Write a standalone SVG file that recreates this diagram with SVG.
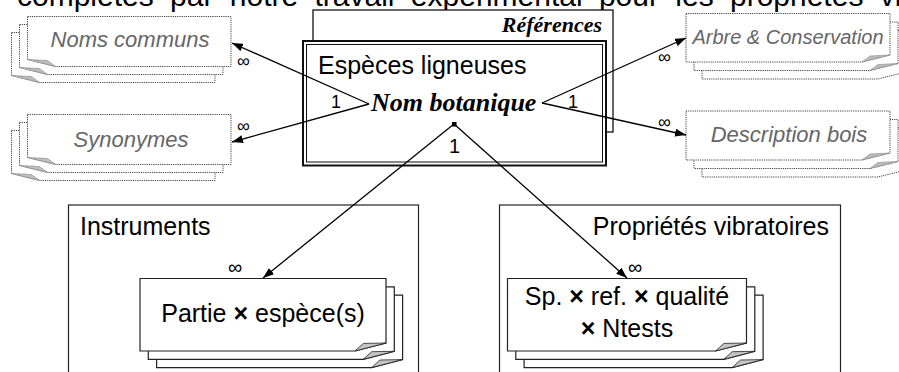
<svg xmlns="http://www.w3.org/2000/svg" width="899" height="372" viewBox="0 0 899 372">
<style>
.sans{font-family:"Liberation Sans",Arial,sans-serif}
.serif{font-family:"Liberation Serif","Times New Roman",serif;font-weight:bold;font-style:italic}
.note{fill:#fff;stroke:#444;stroke-width:1;stroke-dasharray:1.2 1}
.flapd{fill:#bbb;stroke:#888;stroke-width:0.6}
.page{fill:#fff;stroke:#222;stroke-width:1.2}
.flap{fill:#c4c4c4;stroke:#222;stroke-width:0.8}
.gray{fill:#666;font-style:italic}
.conn{stroke:#000;stroke-width:1.3;fill:none}
.lbl{font-size:18px}
</style>
<defs>
<marker id="arr" markerUnits="userSpaceOnUse" markerWidth="11" markerHeight="8" refX="11" refY="4" orient="auto">
<path d="M0,0 L11,4 L0,8 z" fill="#000"/>
</marker>
</defs>

<text class="sans" x="17" y="6" font-size="30" word-spacing="8">complétés par notre travail expérimental pour les propriétés vibratoires</text>

<g id="references">
<rect x="313" y="10" width="300" height="122" fill="#fff" stroke="#111" stroke-width="1.3"/>
<text class="serif" x="602" y="31.5" font-size="22" text-anchor="end">Références</text>
</g>

<g id="especes">
<rect x="303" y="41" width="303" height="124.5" fill="#fff" stroke="#111" stroke-width="2"/>
<rect x="306.5" y="44.5" width="296" height="117.5" fill="none" stroke="#111" stroke-width="1"/>
<text class="sans" x="318" y="74" font-size="25">Espèces ligneuses</text>
<text class="serif" x="371" y="111" font-size="26">Nom botanique</text>
<rect x="452" y="122" width="4.5" height="4.5" fill="#000"/>
</g>

<g id="noms-communs">
<path class="note" d="M11.5,32.5 H215 V82.5 H39.5 L11.5,75.5 Z"/>
<path class="flapd" d="M39.5,82.5 L31.5,76.5 L11.5,75.5 Z"/>
<path class="note" d="M19.5,24.5 H223 V74.5 H47.5 L19.5,67.5 Z"/>
<path class="flapd" d="M47.5,74.5 L39.5,68.5 L19.5,67.5 Z"/>
<path class="note" d="M27.5,16.5 H231 V66.5 H55.5 L27.5,59.5 Z"/>
<path class="flapd" d="M55.5,66.5 L47.5,60.5 L27.5,59.5 Z"/>
<text class="sans gray" x="130" y="47" font-size="22" text-anchor="middle">Noms communs</text>
</g>

<g id="synonymes">
<path class="note" d="M11.5,130.5 H215 V180.5 H39.5 L11.5,173.5 Z"/>
<path class="flapd" d="M39.5,180.5 L31.5,174.5 L11.5,173.5 Z"/>
<path class="note" d="M19.5,122.5 H223 V172.5 H47.5 L19.5,165.5 Z"/>
<path class="flapd" d="M47.5,172.5 L39.5,166.5 L19.5,165.5 Z"/>
<path class="note" d="M27.5,114.5 H231 V164.5 H55.5 L27.5,157.5 Z"/>
<path class="flapd" d="M55.5,164.5 L47.5,158.5 L27.5,157.5 Z"/>
<text class="sans gray" x="131" y="147" font-size="22" text-anchor="middle">Synonymes</text>
</g>

<g id="arbre">
<path class="note" d="M702,30.5 H906 V72 L878,79 H702 Z"/>
<path class="note" d="M694,22 H898 V63.5 L870,70.5 H694 Z"/>
<path class="flapd" d="M870,70.5 L878,64.5 L898,63.5 Z"/>
<path class="note" d="M686,13.5 H890 V55 L862,62 H686 Z"/>
<path class="flapd" d="M862,62 L870,56 L890,55 Z"/>
<text class="sans gray" x="788" y="44" font-size="20" text-anchor="middle">Arbre &amp; Conservation</text>
</g>

<g id="description">
<path class="note" d="M702,128 H906 V170 L878,177 H702 Z"/>
<path class="note" d="M694,119.5 H898 V161.5 L870,168.5 H694 Z"/>
<path class="flapd" d="M870,168.5 L878,162.5 L898,161.5 Z"/>
<path class="note" d="M686,111 H890 V153 L862,160 H686 Z"/>
<path class="flapd" d="M862,160 L870,154 L890,153 Z"/>
<text class="sans gray" x="789" y="142" font-size="22" text-anchor="middle">Description bois</text>
</g>

<g id="instruments">
<rect x="68.5" y="205" width="350" height="180" fill="#fff" stroke="#222" stroke-width="1.2"/>
<text class="sans" x="80" y="235" font-size="25">Instruments</text>
</g>

<g id="proprietes">
<rect x="499.5" y="205" width="341" height="180" fill="#fff" stroke="#222" stroke-width="1.2"/>
<text class="sans" x="829" y="235" font-size="25" text-anchor="end">Propriétés vibratoires</text>
</g>

<g id="partie">
<path class="page" d="M156.6,295.1 H402.6 V359.6 L371.6,367.6 H156.6 Z"/>
<path class="flap" d="M371.6,367.6 L380,360 L402.6,359.6 Z"/>
<path class="page" d="M148.3,286.8 H394.3 V351.3 L363.3,359.3 H148.3 Z"/>
<path class="flap" d="M363.3,359.3 L371.7,351.7 L394.3,351.3 Z"/>
<path class="page" d="M140,278.5 H386 V343 L355,351 H140 Z"/>
<path class="flap" d="M355,351 L363.4,343.4 L386,343 Z"/>
<text class="sans" x="263" y="322" font-size="25" text-anchor="middle">Partie <tspan font-weight="bold">×</tspan> espèce(s)</text>
</g>

<g id="sp-ref">
<path class="page" d="M524.1,295.1 H763.1 V359.6 L732.1,367.6 H524.1 Z"/>
<path class="flap" d="M732.1,367.6 L740.5,360 L763.1,359.6 Z"/>
<path class="page" d="M515.8,286.8 H754.8 V351.3 L723.8,359.3 H515.8 Z"/>
<path class="flap" d="M723.8,359.3 L732.2,351.7 L754.8,351.3 Z"/>
<path class="page" d="M507.5,278.5 H746.5 V343 L715.5,351 H507.5 Z"/>
<path class="flap" d="M715.5,351 L723.9,343.4 L746.5,343 Z"/>
<text class="sans" x="627" y="305" font-size="25" text-anchor="middle">Sp. <tspan font-weight="bold">×</tspan> ref. <tspan font-weight="bold">×</tspan> qualité</text>
<text class="sans" x="627" y="336.5" font-size="25" text-anchor="middle"><tspan font-weight="bold">×</tspan> Ntests</text>
</g>

<g id="connectors">
<path class="conn" d="M369,104 L232,43" marker-end="url(#arr)"/>
<path class="conn" d="M369,104 L232,142" marker-end="url(#arr)"/>
<path class="conn" d="M542,103 L686,38" marker-end="url(#arr)"/>
<path class="conn" d="M542,103 L686,135" marker-end="url(#arr)"/>
<path class="conn" d="M454,124 L263,278" marker-end="url(#arr)"/>
<path class="conn" d="M454,124 L627,278" marker-end="url(#arr)"/>
<g class="sans lbl">
<text x="331" y="108">1</text>
<text x="568" y="108">1</text>
<text x="449" y="153" font-size="20">1</text>
<text x="237" y="67">∞</text>
<text x="237" y="132">∞</text>
<text x="658" y="63">∞</text>
<text x="658" y="128">∞</text>
<text x="228" y="274" font-size="20">∞</text>
<text x="628" y="274" font-size="20">∞</text>
</g>
</g>
</svg>
